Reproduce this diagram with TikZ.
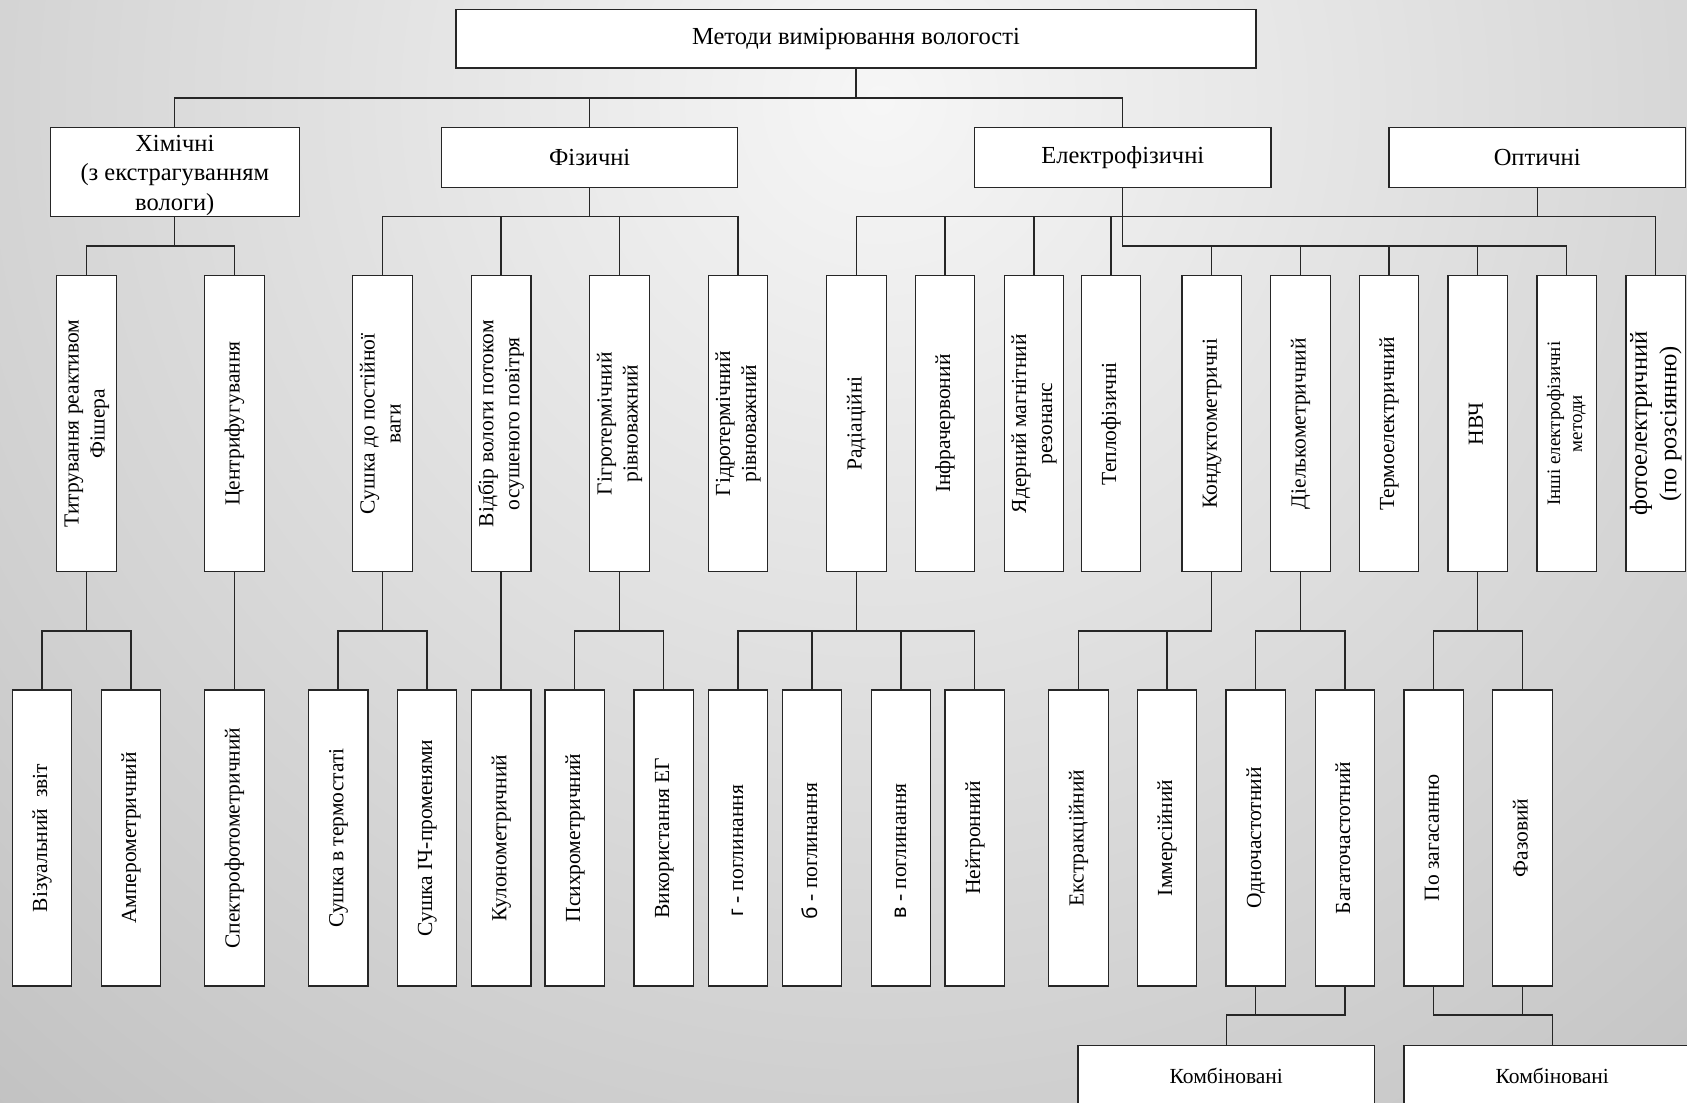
\documentclass[tikz,border=0pt]{standalone}
\usepackage{fontspec}
\setmainfont{Liberation Serif}
\newfontfamily\sansf{Liberation Sans}
\definecolor{bgin}{gray}{0.965}
\definecolor{bgmid}{gray}{0.57}
\definecolor{bgout}{gray}{0.516}
\definecolor{ink}{gray}{0.15}
\pgfdeclareradialshading{bgrad}{\pgfpoint{0bp}{0bp}}{color(0bp)=(bgin); color(43.33bp)=(bgmid); color(50bp)=(bgout)}
\newcommand\vt[1]{\rotatebox{90}{\begin{tabular}{@{}c@{}}#1\end{tabular}}}
\tikzset{
  conn/.style={draw=ink, line width=1.3pt},
  hbox/.style={draw=ink, line width=1.3pt, fill=white, inner sep=0pt, align=center,
    font=\fontsize{24.5}{29.5}\selectfont},
  vbox/.style={draw=ink, line width=1.3pt, fill=white, inner sep=0pt,
    minimum width=59.5pt, minimum height=296pt, font=\fontsize{21.5}{26}\selectfont},
  kbox/.style={draw=ink, line width=1.3pt, fill=white, inner sep=0pt,
    minimum width=296.5pt, minimum height=61.4pt, font=\fontsize{21.5}{26}\selectfont},
}
\begin{document}
\begin{tikzpicture}[x=1pt,y=-1pt]
\useasboundingbox (0,0) rectangle (1687,1103);
\begin{scope}
\clip (0,0) rectangle (1687,1103);
\shade[shading=bgrad] (880,100) circle[radius=1500pt];

% level 0
\node[hbox, minimum width=800pt, minimum height=58.5pt] (title) at (856,38.7) {Методи вимірювання вологості};
% level 1
\node[hbox, minimum width=248.8pt, minimum height=89.4pt] (chem) at (174.8,172) {\rule{0pt}{23pt}Хімічні\\(з екстрагуванням\\вологи)};
\node[hbox, minimum width=296pt, minimum height=60pt] (phys) at (589.7,157.3) {Фізичні};
\node[hbox, minimum width=296.5pt, minimum height=60pt] (elec) at (1122.75,157.3) {Електрофізичні};
\node[hbox, minimum width=296.5pt, minimum height=60pt] (opt) at (1537.2,157.3) {Оптичні};

% level 2
\node[vbox] (titr)   at (86.5,423.7)  {\vt{Титрування реактивом\\Фішера}};
\node[vbox] (centr)  at (234.4,423.7) {\vt{Центрифугування}};
\node[vbox] (sushka) at (382.5,423.7) {\vt{Сушка до постійної\\ваги}};
\node[vbox] (vidbir) at (501.1,423.7) {\vt{Відбір вологи потоком\\осушеного повітря}};
\node[vbox] (gigro)  at (619.5,423.7) {\vt{Гігротермічний\\рівноважний}};
\node[vbox] (gidro)  at (737.9,423.7) {\vt{Гідротермічний\\рівноважний}};
\node[vbox] (rad)    at (856.4,423.7) {\vt{Радіаційні}};
\node[vbox] (infra)  at (944.9,423.7) {\vt{Інфрачервоний}};
\node[vbox] (yadern) at (1033.9,423.7) {\vt{Ядерний магнітний\\резонанс}};
\node[vbox] (teplo)  at (1111,423.7)  {\vt{Теплофізичні}};
\node[vbox] (kond)   at (1211.6,423.7) {\vt{Кондуктометричні}};
\node[vbox] (diel)   at (1300.5,423.7) {\vt{Діелькометричний}};
\node[vbox] (termo)  at (1389,423.7)  {\vt{Термоелектричний}};
\node[vbox] (nvch)   at (1477.7,423.7) {\vt{НВЧ}};
\node[vbox, font=\fontsize{19}{22}\selectfont] (inshi) at (1566.8,423.7) {\vt{Інші електрофізичні\\методи}};
\node[vbox, font=\fontsize{24.5}{29.5}\selectfont] (foto) at (1655.8,423.7) {\vt{фотоелектричний\\(по розсіянню)}};

% level 3
\node[vbox] (viz)    at (41.9,838)   {\vt{Візуальний\ \ звіт}};
\node[vbox] (amper)  at (130.9,838)  {\vt{Амперометричний}};
\node[vbox] (spektr) at (234.4,838)  {\vt{Спектрофотометричний}};
\node[vbox] (sterm)  at (338.1,838)  {\vt{Сушка в термостаті}};
\node[vbox] (sic)    at (426.9,838)  {\vt{Сушка ІЧ-променями}};
\node[vbox] (kulon)  at (501.1,838)  {\vt{Кулонометричний}};
\node[vbox] (psych)  at (574.8,838)  {\vt{Психрометричний}};
\node[vbox] (vykor)  at (663.8,838)  {\vt{Використання ЕГ}};
\node[vbox] (gpog)   at (737.9,838)  {\vt{{\sansf г} - поглинання\kern26pt}};
\node[vbox] (bpog)   at (812,838)    {\vt{{\sansf б} - поглинання\kern26pt}};
\node[vbox] (vpog)   at (901,838)    {\vt{{\sansf в} - поглинання\kern26pt}};
\node[vbox] (neytr)  at (974.8,838)  {\vt{Нейтронний}};
\node[vbox] (ekstr)  at (1078.5,838) {\vt{Екстракційний}};
\node[vbox] (immer)  at (1167,838)   {\vt{Іммерсійний}};
\node[vbox] (odno)   at (1255.8,838) {\vt{Одночастотний}};
\node[vbox] (bagato) at (1345,838)   {\vt{Багаточастотний}};
\node[vbox] (pozag)  at (1433.7,838) {\vt{По загасанню}};
\node[vbox] (faz)    at (1522.5,838) {\vt{Фазовий}};

% level 4
\node[kbox] (komb1) at (1226.3,1076) {Комбіновані};
\node[kbox] (komb2) at (1552.3,1076) {Комбіновані};

% connectors level 0-1
\coordinate (y1) at (0,98);
\draw[conn] (title.south) -- (title.south |- y1);
\draw[conn] (chem.north) -- (chem.north |- y1) -- (elec.north |- y1) -- (elec.north);
\draw[conn] (phys.north) -- (phys.north |- y1);

% connectors level 1-2
\coordinate (y2a) at (0,246);
\coordinate (y2b) at (0,216.7);
\draw[conn] (chem.south) -- (chem.south |- y2a);
\draw[conn] (titr.north) -- (titr.north |- y2a) -- (centr.north |- y2a) -- (centr.north);
\draw[conn] (phys.south) -- (phys.south |- y2b);
\draw[conn] (sushka.north) -- (sushka.north |- y2b) -- (gidro.north |- y2b) -- (gidro.north);
\draw[conn] (vidbir.north) -- (vidbir.north |- y2b);
\draw[conn] (gigro.north) -- (gigro.north |- y2b);
\draw[conn] (opt.south) -- (opt.south |- y2b);
\draw[conn] (rad.north) -- (rad.north |- y2b) -- (foto.north |- y2b) -- (foto.north);
\foreach \n in {infra,yadern,teplo} \draw[conn] (\n.north) -- (\n.north |- y2b);
\draw[conn] (elec.south) -- (elec.south |- y2a) -- (inshi.north |- y2a) -- (inshi.north);
\foreach \n in {kond,diel,termo,nvch} \draw[conn] (\n.north) -- (\n.north |- y2a);

% connectors level 2-3
\coordinate (y3) at (0,631);
\draw[conn] (titr.south) -- (titr.south |- y3);
\draw[conn] (viz.north) -- (viz.north |- y3) -- (amper.north |- y3) -- (amper.north);
\draw[conn] (centr.south) -- (spektr.north);
\draw[conn] (sushka.south) -- (sushka.south |- y3);
\draw[conn] (sterm.north) -- (sterm.north |- y3) -- (sic.north |- y3) -- (sic.north);
\draw[conn] (vidbir.south) -- (kulon.north);
\draw[conn] (gigro.south) -- (gigro.south |- y3);
\draw[conn] (psych.north) -- (psych.north |- y3) -- (vykor.north |- y3) -- (vykor.north);
\draw[conn] (rad.south) -- (rad.south |- y3);
\draw[conn] (gpog.north) -- (gpog.north |- y3) -- (neytr.north |- y3) -- (neytr.north);
\foreach \n in {bpog,vpog} \draw[conn] (\n.north) -- (\n.north |- y3);
\draw[conn] (kond.south) -- (kond.south |- y3) -- (ekstr.north |- y3) -- (ekstr.north);
\draw[conn] (immer.north) -- (immer.north |- y3);
\draw[conn] (diel.south) -- (diel.south |- y3);
\draw[conn] (odno.north) -- (odno.north |- y3) -- (bagato.north |- y3) -- (bagato.north);
\draw[conn] (nvch.south) -- (nvch.south |- y3);
\draw[conn] (pozag.north) -- (pozag.north |- y3) -- (faz.north |- y3) -- (faz.north);

% connectors level 3-4
\coordinate (y4) at (0,1015);
\draw[conn] (odno.south) -- (odno.south |- y4);
\draw[conn] (komb1.north) -- (komb1.north |- y4) -- (bagato.south |- y4) -- (bagato.south);
\draw[conn] (faz.south) -- (faz.south |- y4);
\draw[conn] (pozag.south) -- (pozag.south |- y4) -- (komb2.north |- y4) -- (komb2.north);
\end{scope}
\end{tikzpicture}
\end{document}
